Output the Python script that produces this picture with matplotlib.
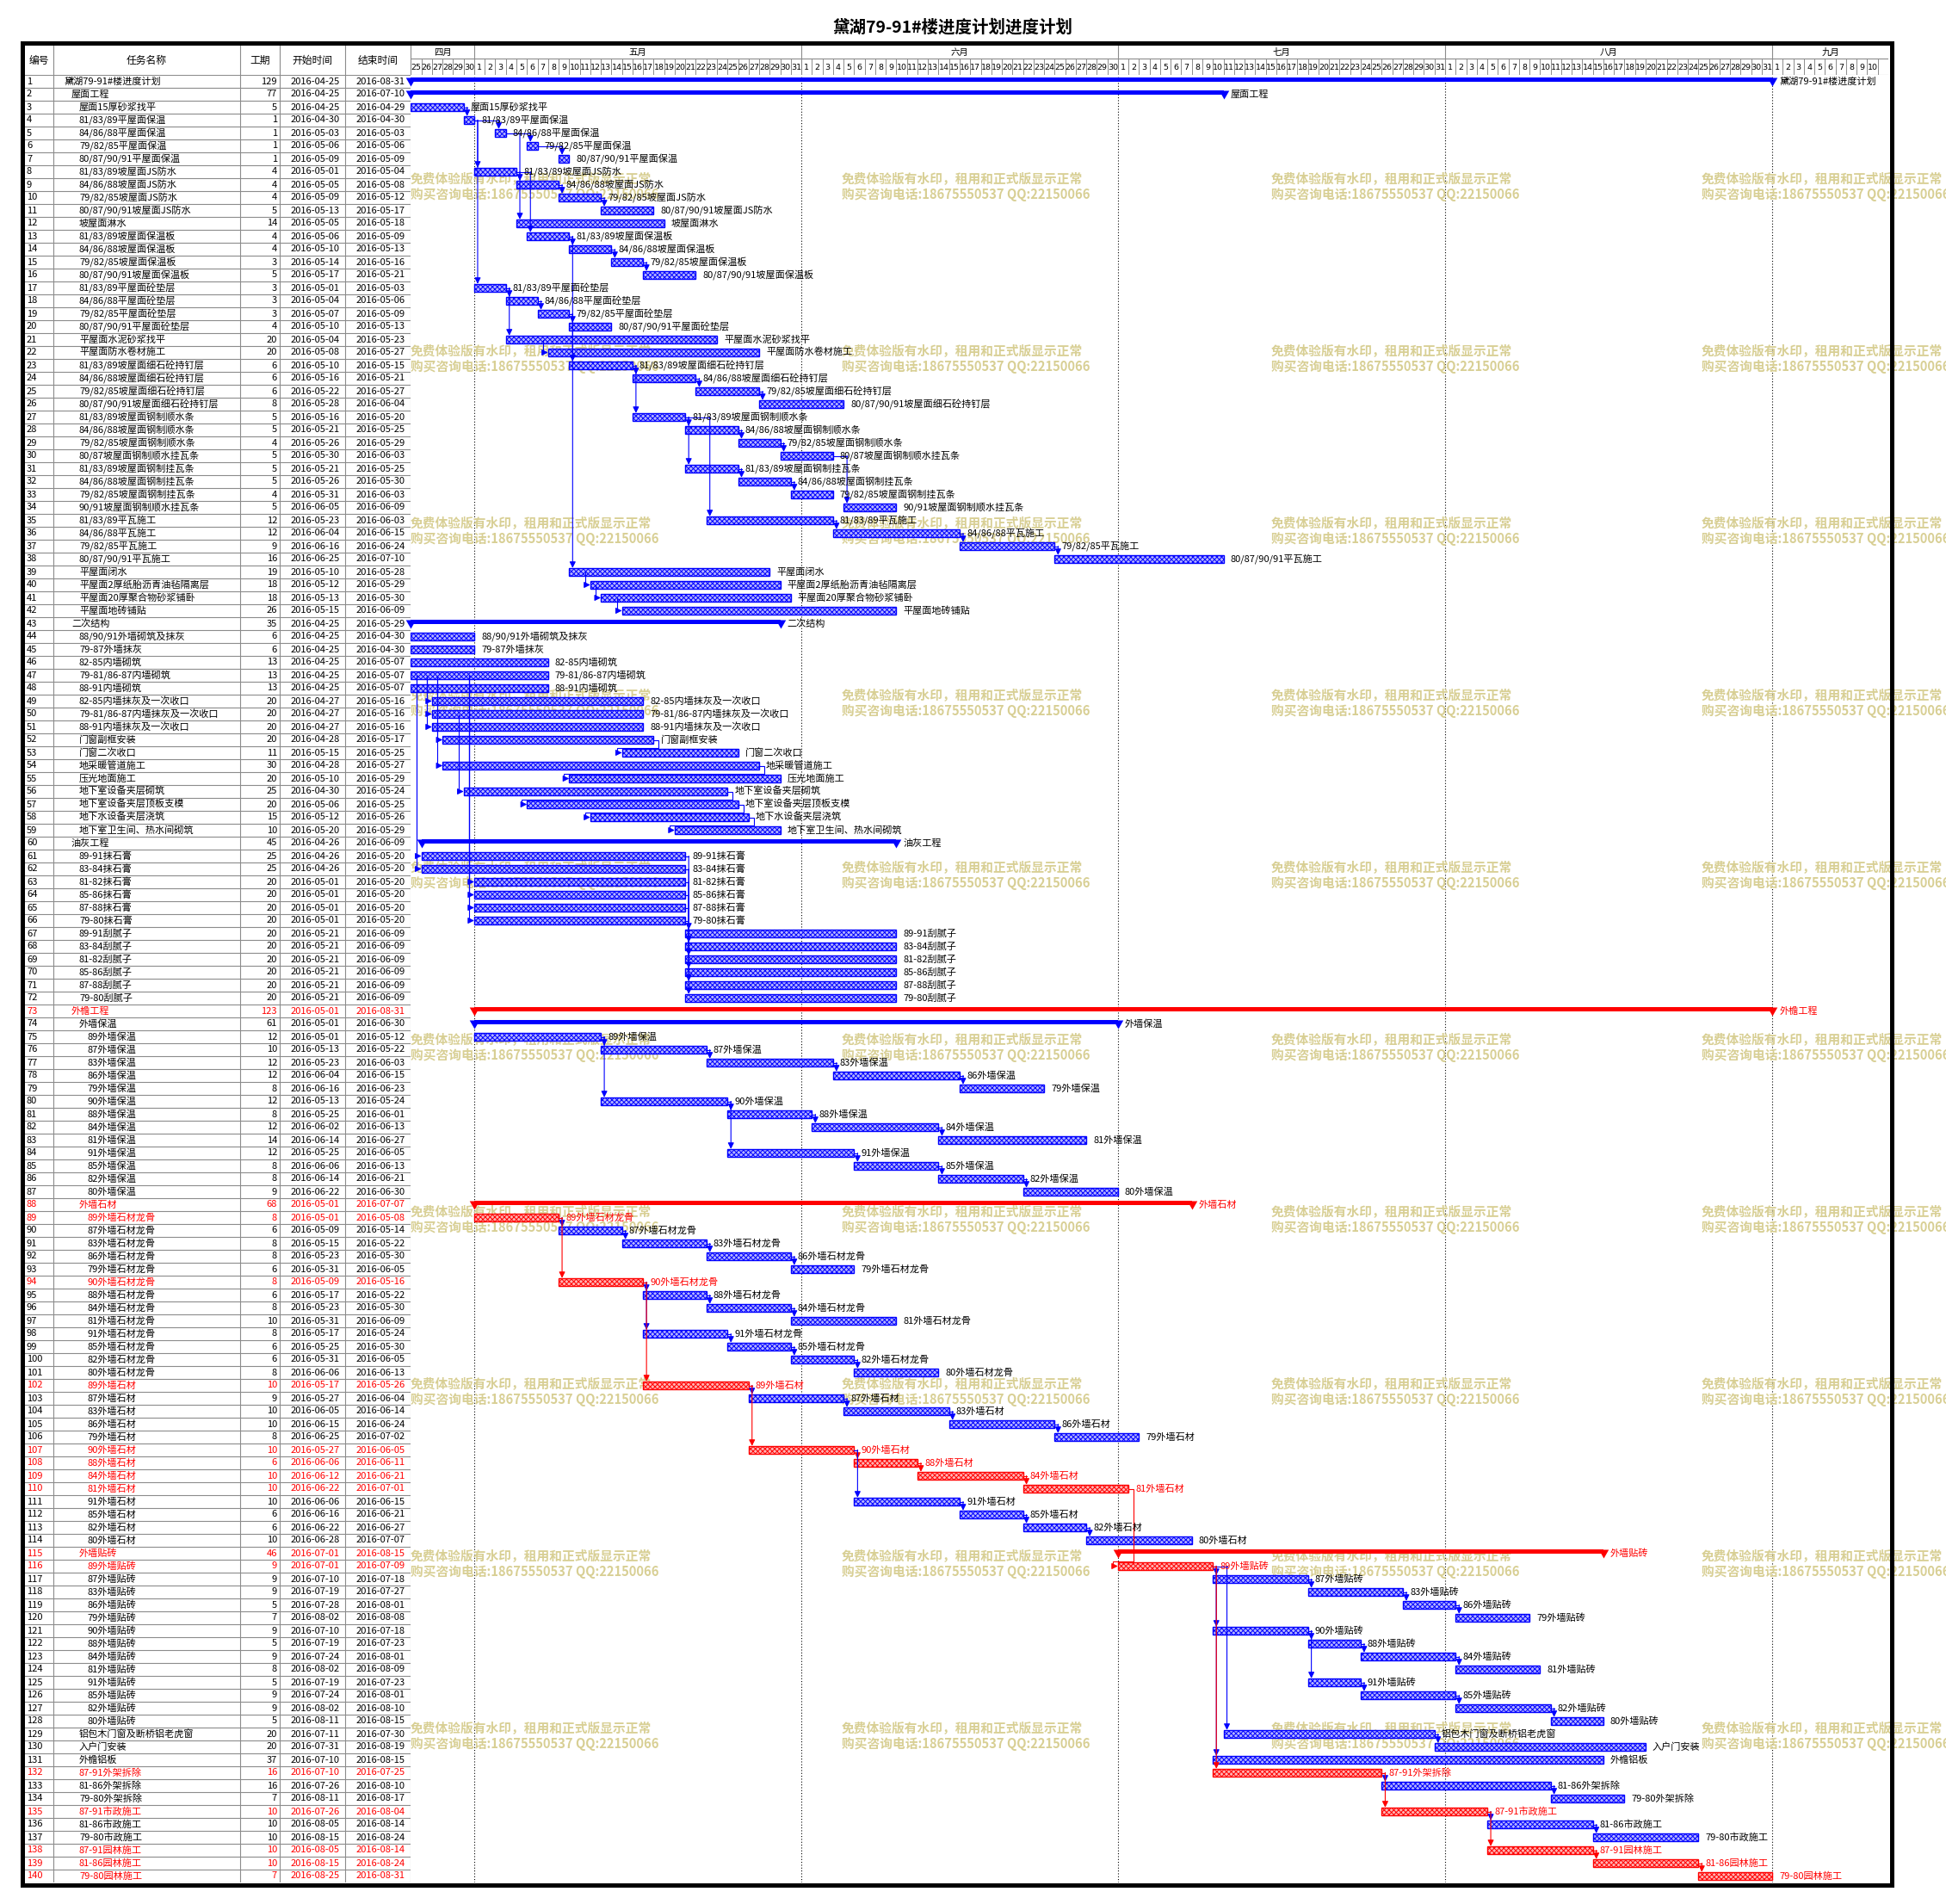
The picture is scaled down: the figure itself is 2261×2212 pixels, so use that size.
import numpy as np
import pandas as pd
import matplotlib
matplotlib.use('Agg')
import matplotlib.pyplot as plt
from matplotlib import font_manager as fm
from matplotlib.patches import Rectangle

# ---------------- data ----------------
title = '黛湖79-91#楼进度计划进度计划'
col_headers = ['编号', '任务名称', '工期', '开始时间', '结束时间']
months = ['四月', '五月', '六月', '七月', '八月', '九月']
watermark_lines = ['免费体验版有水印，租用和正式版显示正常', '购买咨询电话:18675550537 QQ:22150066']

names = [
    '黛湖79-91#楼进度计划', '屋面工程', '屋面15厚砂浆找平', '81/83/89平屋面保温', '84/86/88平屋面保温',
    '79/82/85平屋面保温', '80/87/90/91平屋面保温', '81/83/89坡屋面JS防水', '84/86/88坡屋面JS防水', '79/82/85坡屋面JS防水',
    '80/87/90/91坡屋面JS防水', '坡屋面淋水', '81/83/89坡屋面保温板', '84/86/88坡屋面保温板', '79/82/85坡屋面保温板',
    '80/87/90/91坡屋面保温板', '81/83/89平屋面砼垫层', '84/86/88平屋面砼垫层', '79/82/85平屋面砼垫层', '80/87/90/91平屋面砼垫层',
    '平屋面水泥砂浆找平', '平屋面防水卷材施工', '81/83/89坡屋面细石砼持钉层', '84/86/88坡屋面细石砼持钉层', '79/82/85坡屋面细石砼持钉层',
    '80/87/90/91坡屋面细石砼持钉层', '81/83/89坡屋面钢制顺水条', '84/86/88坡屋面钢制顺水条', '79/82/85坡屋面钢制顺水条', '80/87坡屋面钢制顺水挂瓦条',
    '81/83/89坡屋面钢制挂瓦条', '84/86/88坡屋面钢制挂瓦条', '79/82/85坡屋面钢制挂瓦条', '90/91坡屋面钢制顺水挂瓦条', '81/83/89平瓦施工',
    '84/86/88平瓦施工', '79/82/85平瓦施工', '80/87/90/91平瓦施工', '平屋面闭水', '平屋面2厚纸胎沥青油毡隔离层',
    '平屋面20厚聚合物砂浆铺卧', '平屋面地砖铺贴', '二次结构', '88/90/91外墙砌筑及抹灰', '79-87外墙抹灰',
    '82-85内墙砌筑', '79-81/86-87内墙砌筑', '88-91内墙砌筑', '82-85内墙抹灰及一次收口', '79-81/86-87内墙抹灰及一次收口',
    '88-91内墙抹灰及一次收口', '门窗副框安装', '门窗二次收口', '地采暖管道施工', '压光地面施工',
    '地下室设备夹层砌筑', '地下室设备夹层顶板支模', '地下水设备夹层浇筑', '地下室卫生间、热水间砌筑', '油灰工程',
    '89-91抹石膏', '83-84抹石膏', '81-82抹石膏', '85-86抹石膏', '87-88抹石膏',
    '79-80抹石膏', '89-91刮腻子', '83-84刮腻子', '81-82刮腻子', '85-86刮腻子',
    '87-88刮腻子', '79-80刮腻子', '外檐工程', '外墙保温', '89外墙保温',
    '87外墙保温', '83外墙保温', '86外墙保温', '79外墙保温', '90外墙保温',
    '88外墙保温', '84外墙保温', '81外墙保温', '91外墙保温', '85外墙保温',
    '82外墙保温', '80外墙保温', '外墙石材', '89外墙石材龙骨', '87外墙石材龙骨',
    '83外墙石材龙骨', '86外墙石材龙骨', '79外墙石材龙骨', '90外墙石材龙骨', '88外墙石材龙骨',
    '84外墙石材龙骨', '81外墙石材龙骨', '91外墙石材龙骨', '85外墙石材龙骨', '82外墙石材龙骨',
    '80外墙石材龙骨', '89外墙石材', '87外墙石材', '83外墙石材', '86外墙石材',
    '79外墙石材', '90外墙石材', '88外墙石材', '84外墙石材', '81外墙石材',
    '91外墙石材', '85外墙石材', '82外墙石材', '80外墙石材', '外墙贴砖',
    '89外墙贴砖', '87外墙贴砖', '83外墙贴砖', '86外墙贴砖', '79外墙贴砖',
    '90外墙贴砖', '88外墙贴砖', '84外墙贴砖', '81外墙贴砖', '91外墙贴砖',
    '85外墙贴砖', '82外墙贴砖', '80外墙贴砖', '铝包木门窗及断桥铝老虎窗', '入户门安装',
    '外檐铝板', '87-91外架拆除', '81-86外架拆除', '79-80外架拆除', '87-91市政施工',
    '81-86市政施工', '79-80市政施工', '87-91园林施工', '81-86园林施工', '79-80园林施工',
]

durations = [
    129, 77, 5, 1, 1, 1, 1, 4, 4, 4, 5, 14, 4, 4, 3, 5, 3, 3, 3, 4,
    20, 20, 6, 6, 6, 8, 5, 5, 4, 5, 5, 5, 4, 5, 12, 12, 9, 16, 19, 18,
    18, 26, 35, 6, 6, 13, 13, 13, 20, 20, 20, 20, 11, 30, 20, 25, 20, 15, 10, 45,
    25, 25, 20, 20, 20, 20, 20, 20, 20, 20, 20, 20, 123, 61, 12, 10, 12, 12, 8, 12,
    8, 12, 14, 12, 8, 8, 9, 68, 8, 6, 8, 8, 6, 8, 6, 8, 10, 8, 6, 6,
    8, 10, 9, 10, 10, 8, 10, 6, 10, 10, 10, 6, 6, 10, 46, 9, 9, 9, 5, 7,
    9, 5, 9, 8, 5, 9, 9, 5, 20, 20, 37, 16, 16, 7, 10, 10, 10, 10, 10, 7,
]

starts = [
    '2016-04-25', '2016-04-25', '2016-04-25', '2016-04-30', '2016-05-03', '2016-05-06', '2016-05-09', '2016-05-01', '2016-05-05', '2016-05-09',
    '2016-05-13', '2016-05-05', '2016-05-06', '2016-05-10', '2016-05-14', '2016-05-17', '2016-05-01', '2016-05-04', '2016-05-07', '2016-05-10',
    '2016-05-04', '2016-05-08', '2016-05-10', '2016-05-16', '2016-05-22', '2016-05-28', '2016-05-16', '2016-05-21', '2016-05-26', '2016-05-30',
    '2016-05-21', '2016-05-26', '2016-05-31', '2016-06-05', '2016-05-23', '2016-06-04', '2016-06-16', '2016-06-25', '2016-05-10', '2016-05-12',
    '2016-05-13', '2016-05-15', '2016-04-25', '2016-04-25', '2016-04-25', '2016-04-25', '2016-04-25', '2016-04-25', '2016-04-27', '2016-04-27',
    '2016-04-27', '2016-04-28', '2016-05-15', '2016-04-28', '2016-05-10', '2016-04-30', '2016-05-06', '2016-05-12', '2016-05-20', '2016-04-26',
    '2016-04-26', '2016-04-26', '2016-05-01', '2016-05-01', '2016-05-01', '2016-05-01', '2016-05-21', '2016-05-21', '2016-05-21', '2016-05-21',
    '2016-05-21', '2016-05-21', '2016-05-01', '2016-05-01', '2016-05-01', '2016-05-13', '2016-05-23', '2016-06-04', '2016-06-16', '2016-05-13',
    '2016-05-25', '2016-06-02', '2016-06-14', '2016-05-25', '2016-06-06', '2016-06-14', '2016-06-22', '2016-05-01', '2016-05-01', '2016-05-09',
    '2016-05-15', '2016-05-23', '2016-05-31', '2016-05-09', '2016-05-17', '2016-05-23', '2016-05-31', '2016-05-17', '2016-05-25', '2016-05-31',
    '2016-06-06', '2016-05-17', '2016-05-27', '2016-06-05', '2016-06-15', '2016-06-25', '2016-05-27', '2016-06-06', '2016-06-12', '2016-06-22',
    '2016-06-06', '2016-06-16', '2016-06-22', '2016-06-28', '2016-07-01', '2016-07-01', '2016-07-10', '2016-07-19', '2016-07-28', '2016-08-02',
    '2016-07-10', '2016-07-19', '2016-07-24', '2016-08-02', '2016-07-19', '2016-07-24', '2016-08-02', '2016-08-11', '2016-07-11', '2016-07-31',
    '2016-07-10', '2016-07-10', '2016-07-26', '2016-08-11', '2016-07-26', '2016-08-05', '2016-08-15', '2016-08-05', '2016-08-15', '2016-08-25',
]

ends = [
    '2016-08-31', '2016-07-10', '2016-04-29', '2016-04-30', '2016-05-03', '2016-05-06', '2016-05-09', '2016-05-04', '2016-05-08', '2016-05-12',
    '2016-05-17', '2016-05-18', '2016-05-09', '2016-05-13', '2016-05-16', '2016-05-21', '2016-05-03', '2016-05-06', '2016-05-09', '2016-05-13',
    '2016-05-23', '2016-05-27', '2016-05-15', '2016-05-21', '2016-05-27', '2016-06-04', '2016-05-20', '2016-05-25', '2016-05-29', '2016-06-03',
    '2016-05-25', '2016-05-30', '2016-06-03', '2016-06-09', '2016-06-03', '2016-06-15', '2016-06-24', '2016-07-10', '2016-05-28', '2016-05-29',
    '2016-05-30', '2016-06-09', '2016-05-29', '2016-04-30', '2016-04-30', '2016-05-07', '2016-05-07', '2016-05-07', '2016-05-16', '2016-05-16',
    '2016-05-16', '2016-05-17', '2016-05-25', '2016-05-27', '2016-05-29', '2016-05-24', '2016-05-25', '2016-05-26', '2016-05-29', '2016-06-09',
    '2016-05-20', '2016-05-20', '2016-05-20', '2016-05-20', '2016-05-20', '2016-05-20', '2016-06-09', '2016-06-09', '2016-06-09', '2016-06-09',
    '2016-06-09', '2016-06-09', '2016-08-31', '2016-06-30', '2016-05-12', '2016-05-22', '2016-06-03', '2016-06-15', '2016-06-23', '2016-05-24',
    '2016-06-01', '2016-06-13', '2016-06-27', '2016-06-05', '2016-06-13', '2016-06-21', '2016-06-30', '2016-07-07', '2016-05-08', '2016-05-14',
    '2016-05-22', '2016-05-30', '2016-06-05', '2016-05-16', '2016-05-22', '2016-05-30', '2016-06-09', '2016-05-24', '2016-05-30', '2016-06-05',
    '2016-06-13', '2016-05-26', '2016-06-04', '2016-06-14', '2016-06-24', '2016-07-02', '2016-06-05', '2016-06-11', '2016-06-21', '2016-07-01',
    '2016-06-15', '2016-06-21', '2016-06-27', '2016-07-07', '2016-08-15', '2016-07-09', '2016-07-18', '2016-07-27', '2016-08-01', '2016-08-08',
    '2016-07-18', '2016-07-23', '2016-08-01', '2016-08-09', '2016-07-23', '2016-08-01', '2016-08-10', '2016-08-15', '2016-07-30', '2016-08-19',
    '2016-08-15', '2016-07-25', '2016-08-10', '2016-08-17', '2016-08-04', '2016-08-14', '2016-08-24', '2016-08-14', '2016-08-24', '2016-08-31',
]

# outline level of each task (1 = project, 2 = phase, ...)
levels = [1, 2] + [3] * 40 + [2] + [3] * 16 + [2] + [3] * 12 + [2, 3] + [4] * 13 + [3] + [4] * 26 + [3] + [4] * 13 + [3] * 12

summary_rows = [1, 2, 43, 60, 73, 74, 88, 115]
critical_rows = [73, 88, 89, 94, 102, 107, 108, 109, 110, 115, 116, 132, 135, 138, 139, 140]

# finish-to-start links (predecessor, successor)
fs_links = [
    (3, 4), (4, 5), (5, 6), (6, 7), (4, 8), (8, 9), (9, 10), (10, 11), (5, 12), (8, 13),
    (13, 14), (14, 15), (15, 16), (4, 17), (17, 18), (18, 19), (19, 20), (17, 21), (13, 23),
    (23, 24), (24, 25), (25, 26), (23, 27), (27, 28), (28, 29), (29, 30), (27, 31), (31, 32),
    (32, 33), (30, 34), (27, 35), (35, 36), (36, 37), (37, 38), (19, 39),
    (52, 53), (54, 55), (56, 57), (57, 58), (58, 59),
    (61, 67), (62, 68), (63, 69), (64, 70), (65, 71), (66, 72),
    (75, 76), (76, 77), (77, 78), (78, 79), (75, 80), (80, 81), (81, 82), (82, 83), (80, 84),
    (84, 85), (85, 86), (86, 87),
    (89, 90), (90, 91), (91, 92), (92, 93), (89, 94), (94, 95), (95, 96), (96, 97), (94, 98),
    (98, 99), (99, 100), (100, 101), (94, 102), (102, 103), (103, 104), (104, 105), (105, 106),
    (102, 107), (107, 108), (108, 109), (109, 110), (107, 111), (111, 112), (112, 113), (113, 114),
    (110, 116), (116, 117), (117, 118), (118, 119), (119, 120), (116, 121), (121, 122), (122, 123),
    (123, 124), (121, 125), (125, 126), (126, 127), (127, 128), (116, 129), (129, 130), (116, 131),
    (116, 132), (132, 133), (133, 134), (132, 135), (135, 136), (136, 137), (135, 138), (138, 139),
    (139, 140),
]
# start-to-start links
ss_links = [
    (21, 22), (39, 40), (40, 41), (41, 42),
    (47, 49), (47, 50), (47, 51), (47, 52), (47, 54), (50, 56),
    (47, 61), (47, 62), (47, 63), (47, 64), (47, 65), (47, 66),
]

# ---------------- fonts ----------------
avail = {f.name for f in fm.fontManager.ttflist}
CJK = 'Noto Sans CJK SC'
NARROW = 'Liberation Sans Narrow' if 'Liberation Sans Narrow' in avail else 'DejaVu Sans'
plt.rcParams['font.family'] = [CJK, 'DejaVu Sans']
plt.rcParams['hatch.linewidth'] = 0.7

# ---------------- geometry ----------------
W, H, DPI = 2261, 2212, 100
X0, X1 = 477.4, 2194.0
Y0, Y1 = 87.0, 2187.0
HY0 = 52.0
NDAYS = 140
NROWS = len(names)
ppd = (X1 - X0) / NDAYS
ppr = (Y1 - Y0) / NROWS


def frect(x0, y0, x1, y1):
    return [x0 / W, 1 - y1 / H, (x1 - x0) / W, (y1 - y0) / H]


t0 = pd.Timestamp(starts[0])
s_day = (pd.to_datetime(starts) - t0).days.to_numpy().astype(float)
f_day = (pd.to_datetime(ends) - t0).days.to_numpy().astype(float) + 1
rows = np.arange(1, NROWS + 1)
yc = rows - 0.5
is_sum = np.isin(rows, summary_rows)
is_crit = np.isin(rows, critical_rows)
BLUE, RED, GRAY = '#0000ff', '#ff0000', '#8c8c8c'

fig = plt.figure(figsize=(W / DPI, H / DPI), dpi=DPI)

# ---------------- table ----------------
axt = fig.add_axes(frect(24, Y0, X0, Y1))
axt.set_xlim(24, X0)
axt.set_ylim(NROWS, 0)
axt.axis('off')
axt.hlines(np.arange(0, NROWS + 1), 24, X0, color=GRAY, lw=0.8)
for xb in [62, 279, 325, 401, X0 - 0.5]:
    axt.axvline(xb, color=GRAY, lw=0.8)

indent_x = {1: 75, 2: 83, 3: 92, 4: 101}
for i in range(NROWS):
    c = RED if is_crit[i] else 'black'
    y = yc[i]
    axt.text(31, y, str(rows[i]), ha='left', va='center', fontsize=8, color=c)
    axt.text(indent_x[levels[i]], y, names[i], ha='left', va='center', fontsize=8, color=c)
    axt.text(322, y, str(durations[i]), ha='right', va='center', fontsize=8, color=c)
    axt.text(338, y, starts[i], ha='left', va='center', fontsize=8, color=c)
    axt.text(414, y, ends[i], ha='left', va='center', fontsize=8, color=c)

axth = fig.add_axes(frect(24, HY0, X0, Y0))
axth.set_xlim(24, X0)
axth.set_ylim(1, 0)
axth.axis('off')
for xb in [62, 279, 325, 401, X0 - 0.5]:
    axth.axvline(xb, color=GRAY, lw=0.8)
for txt, xc in zip(col_headers, [45, 170, 302, 363, 439]):
    axth.text(xc, 0.52, txt, ha='center', va='center', fontsize=8.5)

# ---------------- chart header ----------------
axc = fig.add_axes(frect(X0, HY0, X1, Y0))
axc.set_xlim(0, NDAYS)
axc.set_ylim(1, 0)
axc.axis('off')
days = pd.date_range(starts[0], periods=NDAYS - 1)
ymid = 16 / 35
axc.axhline(ymid, color=GRAY, lw=0.8)
axc.axhline(1, color=GRAY, lw=0.8)
for d in range(1, NDAYS):
    axc.vlines(d, ymid, 1, color=GRAY, lw=0.7)
mstarts = [0] + [d for d in range(len(days)) if days[d].day == 1]
mends = mstarts[1:] + [NDAYS]
for ms, me, mn in zip(mstarts, mends, months):
    axc.vlines(ms, 0, 1, color=GRAY, lw=0.8)
    axc.text((ms + me) / 2, ymid / 2 + 0.02, mn, ha='center', va='center', fontsize=7.5)
for d, dt in enumerate(days):
    axc.text(d + 0.5, (ymid + 1) / 2 + 0.02, str(dt.day), ha='center', va='center',
             fontsize=6.8, family=NARROW)

# ---------------- gantt ----------------
ax = fig.add_axes(frect(X0, Y0, X1, Y1))
ax.set_xlim(0, NDAYS)
ax.set_ylim(NROWS, 0)
ax.axis('off')
for ms in mstarts[1:]:
    ax.axvline(ms, color='black', lw=0.8, ls=(0, (1, 2)), zorder=1)

# watermarks
for k in range(10):
    for xpx in [477, 978, 1477, 1977]:
        for j, (line, ypx) in enumerate(zip(watermark_lines, [208, 226])):
            ax.text((xpx - X0) / ppd, (ypx + 200 * k - Y0) / ppr, line, ha='left', va='center',
                    fontsize=10.6, fontweight='bold', color='#d8cf94', zorder=1.5, clip_on=False)

# task bars
for crit, col, face in [(False, BLUE, '#b4b4ff'), (True, RED, '#ffb4b4')]:
    m = (~is_sum) & (is_crit == crit)
    ax.barh(yc[m], f_day[m] - s_day[m], left=s_day[m], height=0.62, facecolor=face,
            edgecolor=col, hatch='xxxxxx', linewidth=1.0, zorder=2)

# summary bars
tri = [(-1, 0.87), (1, 0.87), (0, -0.87)]
for crit, col in [(False, BLUE), (True, RED)]:
    m = is_sum & (is_crit == crit)
    ax.barh(yc[m] - 0.135, f_day[m] - s_day[m], left=s_day[m], height=0.33, color=col,
            linewidth=0, zorder=2.2)
    for xs in (s_day[m], f_day[m]):
        ax.scatter(xs, yc[m] + 0.03, marker=tri, s=8.3 ** 2, color=col, linewidths=0,
                   zorder=2.3, clip_on=False)

# links


def draw_path(pts, col):
    xs = [p[0] for p in pts]
    ys = [p[1] for p in pts]
    ax.plot(xs[:-1], ys[:-1], color=col, lw=0.8, zorder=3, solid_joinstyle='miter')
    ax.annotate('', xy=pts[-1], xytext=pts[-2],
                arrowprops=dict(arrowstyle='-|>,head_length=0.7,head_width=0.35', color=col,
                                lw=0.8, shrinkA=0, shrinkB=0, mutation_scale=6), zorder=3)


def link_color(p, q):
    return RED if (is_crit[p - 1] and is_crit[q - 1]) else BLUE


for p, q in fs_links:
    ep, sq = f_day[p - 1], s_day[q - 1]
    yp = p - 0.5
    col = link_color(p, q)
    if sq >= ep:
        xv = sq + 4 / ppd
        pts = [(ep, yp), (xv, yp), (xv, q - 1 + 0.19)]
    else:
        xa = ep + 6 / ppd
        yb = q - 1 + 0.1
        xl = sq - 6 / ppd
        pts = [(ep, yp), (xa, yp), (xa, yb), (xl, yb), (xl, q - 0.5), (sq, q - 0.5)]
    draw_path(pts, col)

for p, q in ss_links:
    sq = s_day[q - 1]
    xv = sq - 6 / ppd
    draw_path([(xv, p - 0.5), (xv, q - 0.5), (sq, q - 0.5)], link_color(p, q))

# bar labels
for i in range(NROWS):
    c = RED if is_crit[i] else 'black'
    ax.annotate(names[i], xy=(f_day[i], yc[i]), xytext=(5.8, 0), textcoords='offset points',
                ha='left', va='center', fontsize=8, color=c, zorder=4, annotation_clip=False)

# ---------------- frame & title ----------------
fig.add_artist(Rectangle((25.5 / W, 1 - 2189.5 / H), (2197.5 - 25.5) / W, (2189.5 - 49.5) / H,
                         transform=fig.transFigure, fill=False, lw=3.6, edgecolor='black'))
fig.text(1107 / W, 1 - 32 / H, title, ha='center', va='center', fontsize=14, fontweight='bold')

fig.savefig('out.png', dpi=DPI)
